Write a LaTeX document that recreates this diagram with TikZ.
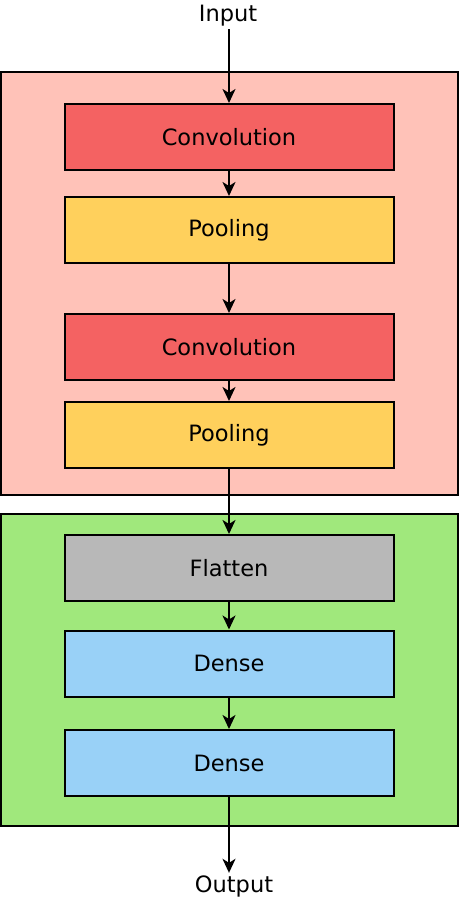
\documentclass[tikz,border=0pt]{standalone}
\usepackage{fontspec}
\setmainfont{DejaVu Sans}
\usetikzlibrary{positioning,arrows.meta}

\definecolor{groupcnn}{HTML}{FFC2B8}
\definecolor{groupdense}{HTML}{A0E87C}
\definecolor{convcol}{HTML}{F46262}
\definecolor{poolcol}{HTML}{FFD05C}
\definecolor{flatcol}{HTML}{B8B8B8}
\definecolor{densecol}{HTML}{99D1F7}

\begin{document}
\begin{tikzpicture}[x=1pt,y=-1pt,>={Stealth[length=14pt,width=13pt,inset=4pt]},
    line width=2pt,
    font=\fontsize{22.5}{27}\selectfont,
    layer/.style={draw=black,rectangle,minimum width=329pt,minimum height=66pt,inner sep=0pt},
    group/.style={draw=black,rectangle,inner sep=0pt},
    flow/.style={->,line width=2pt}]
  \useasboundingbox (0,0) rectangle (460,899);
  %% groups
  \node[group,fill=groupcnn,minimum width=457pt,minimum height=423pt] (cnn) at (229.5,283.5) {};
  \node[group,fill=groupdense,minimum width=457pt,minimum height=312pt] (dense) at (229.5,670) {};
  %% layers
  \node[layer,fill=convcol] (conv1) at (229,137) {Convolution};
  \node[layer,fill=poolcol] (pool1) at (229,230) {Pooling};
  \node[layer,fill=convcol] (conv2) at (229,347) {Convolution};
  \node[layer,fill=poolcol] (pool2) at (229,435) {Pooling};
  \node[layer,fill=flatcol] (flat) at (229,568) {Flatten};
  \node[layer,fill=densecol] (dense1) at (229,663.5) {Dense};
  \node[layer,fill=densecol] (dense2) at (229,763) {Dense};
  %% input / output
  \node[inner sep=2pt] (input) at (228,15.5) {Input};
  \node[inner sep=2pt] (output) at (234,886.5) {Output};
  %% edges
  \draw[flow] (input.south -| conv1.north) -- (conv1);
  \draw[flow] (conv1) -- (pool1);
  \draw[flow] (pool1) -- (conv2);
  \draw[flow] (conv2) -- (pool2);
  \draw[flow] (pool2) -- (flat);
  \draw[flow] (flat) -- (dense1);
  \draw[flow] (dense1) -- (dense2);
  \draw[flow] (dense2.south) -- (dense2.south |- output.north);
\end{tikzpicture}
\end{document}
